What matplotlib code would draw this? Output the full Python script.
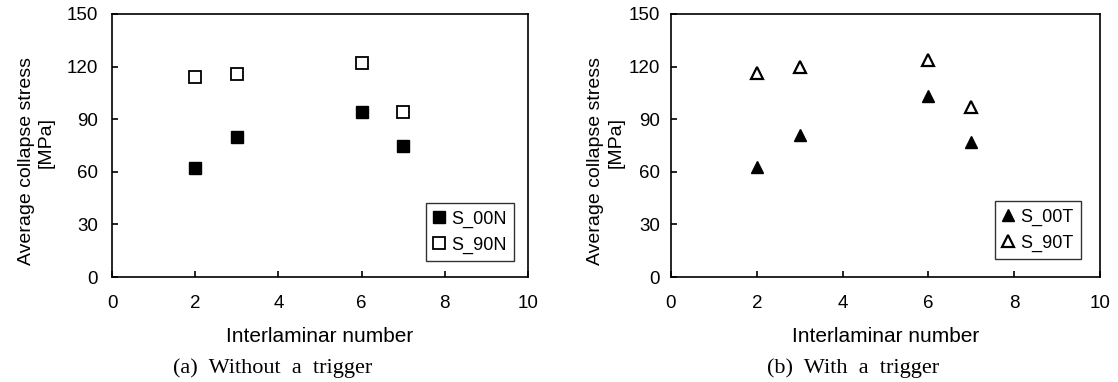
import matplotlib.pyplot as plt

plt.rcParams['font.family'] = ['Liberation Sans', 'DejaVu Sans']

# interlaminar numbers
layers = [2, 3, 6, 7]

# (a) without a trigger
s00n = [62, 80, 94, 75]
s90n = [114, 116, 122, 94]

# (b) with a trigger
s00t = [63, 81, 103, 77]
s90t = [116.5, 119.5, 124, 97]

xticks = [0, 2, 4, 6, 8, 10]
yticks = [0, 30, 60, 90, 120, 150]

fig = plt.figure(figsize=(11.18, 3.82), dpi=100)
W, H = 1118, 382


def px_axes(l, t, r, b):
    return fig.add_axes([l / W, 1 - b / H, (r - l) / W, (b - t) / H])


ax1 = px_axes(112, 14, 528, 277)
ax2 = px_axes(671, 14, 1100, 277)


def style_axis(ax, caption, cap_x, ypad, lab_x, mpa_x):
    ax.set_xlim(0, 10)
    ax.set_ylim(0, 150)
    ax.set_xticks(xticks)
    ax.set_yticks(yticks)
    ax.tick_params(direction='in', labelsize=13.5, length=4, width=1.2)
    ax.tick_params(axis='x', pad=13)
    ax.tick_params(axis='y', pad=ypad)
    for sp in ax.spines.values():
        sp.set_linewidth(1.2)
    ax.set_xlabel('Interlaminar number', fontsize=15, labelpad=11)
    # y label lines are offset from each other in the original
    fig.text(lab_x / W, 1 - 161 / H, 'Average collapse stress', rotation=90,
             ha='center', va='center', fontsize=14)
    fig.text(mpa_x / W, 1 - 143 / H, '[MPa]', rotation=90,
             ha='center', va='center', fontsize=14)
    fig.text(cap_x / W, 1 - 368 / H, caption, ha='center', va='center',
             fontsize=16, family='Liberation Serif')


ax1.plot(layers, s00n, 's', color='black', markersize=8.5, label='S_00N')
ax1.plot(layers, s90n, 's', markerfacecolor='white', markeredgecolor='black',
         markeredgewidth=1.3, markersize=8.5, label='S_90N')
style_axis(ax1, '(a)  Without  a  trigger', 273, 10, 27, 46)
ax1.legend(loc='lower right', fontsize=13, frameon=True, fancybox=False,
           edgecolor='black', handlelength=0.6, handletextpad=0.4,
           borderaxespad=0, borderpad=0.4, labelspacing=0.5,
           bbox_to_anchor=((514 - 112) / 416, (277 - 261) / 263))

ax2.plot(layers, s00t, '^', color='black', markersize=9, label='S_00T')
ax2.plot(layers, s90t, '^', markerfacecolor='white', markeredgecolor='black',
         markeredgewidth=1.6, markersize=8.5, label='S_90T')
style_axis(ax2, '(b)  With  a  trigger', 853, 8, 596, 616)
ax2.legend(loc='lower right', fontsize=13, frameon=True, fancybox=False,
           edgecolor='black', handlelength=0.6, handletextpad=0.4,
           borderaxespad=0, borderpad=0.4, labelspacing=0.5,
           bbox_to_anchor=((1081 - 671) / 429, (277 - 259) / 263))

fig.savefig('out.png', dpi=100)
